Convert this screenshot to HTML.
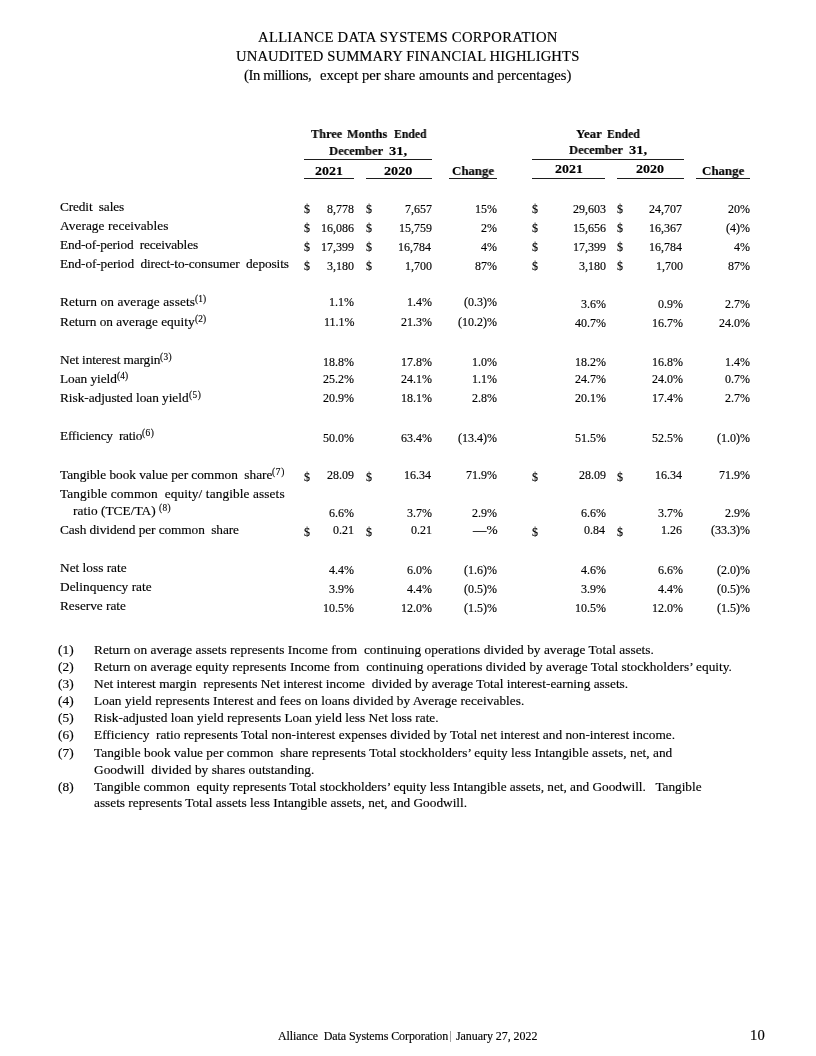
<!DOCTYPE html>
<html><head><meta charset="utf-8"><style>
html,body{margin:0;padding:0;background:#fff;}
body{width:816px;height:1056px;position:relative;overflow:hidden;-webkit-font-smoothing:antialiased;font-family:"Liberation Serif",serif;color:#000;}
.t{position:absolute;white-space:pre;line-height:1;will-change:transform;-webkit-text-stroke:0.15px #000;}
.l{position:absolute;}
</style></head><body>
<div class="t" style="left:258px;top:30px;font-size:14.67px;letter-spacing:0.295px;">ALLIANCE DATA SYSTEMS CORPORATION</div>
<div class="t" style="left:236px;top:49px;font-size:14.67px;letter-spacing:0.120px;">UNAUDITED SUMMARY FINANCIAL HIGHLIGHTS</div>
<div class="t" style="left:244px;top:68px;font-size:14.67px;letter-spacing:-0.400px;">(In millions,</div>
<div class="t" style="left:320px;top:68px;font-size:14.67px;letter-spacing:0.006px;">except per share amounts and percentages)</div>
<div class="t" style="left:311px;top:127px;font-size:13px;font-weight:bold;transform:scale(0.9430,1);transform-origin:0 11px;">Three</div>
<div class="t" style="left:347px;top:127px;font-size:13px;font-weight:bold;transform:scale(0.9436,1);transform-origin:0 11px;">Months</div>
<div class="t" style="left:394px;top:127px;font-size:13px;font-weight:bold;transform:scale(0.8973,1);transform-origin:0 11px;">Ended</div>
<div class="t" style="left:329px;top:144px;font-size:13px;font-weight:bold;transform:scale(0.9624,1);transform-origin:0 11px;">December</div>
<div class="t" style="left:389px;top:144px;font-size:13px;font-weight:bold;transform:scale(1.1195,1);transform-origin:0 11px;">31,</div>
<div class="l" style="left:304.1px;top:159.0px;width:127.9px;height:1.0px;background:#1e1e1e"></div>
<div class="t" style="left:315px;top:164px;font-size:13px;font-weight:bold;transform:scale(1.0737,1);transform-origin:0 11px;">2021</div>
<div class="t" style="left:384px;top:164px;font-size:13px;font-weight:bold;transform:scale(1.0942,1);transform-origin:0 11px;">2020</div>
<div class="t" style="left:452px;top:164px;font-size:13px;font-weight:bold;transform:scale(0.9886,1);transform-origin:0 11px;">Change</div>
<div class="l" style="left:304.1px;top:178.2px;width:49.8px;height:1.0px;background:#1e1e1e"></div>
<div class="l" style="left:365.5px;top:178.2px;width:66.5px;height:1.0px;background:#1e1e1e"></div>
<div class="l" style="left:448.8px;top:178.2px;width:48.4px;height:1.0px;background:#1e1e1e"></div>
<div class="t" style="left:576px;top:127px;font-size:13px;font-weight:bold;transform:scale(0.9922,1);transform-origin:0 11px;">Year</div>
<div class="t" style="left:607px;top:127px;font-size:13px;font-weight:bold;transform:scale(0.9057,1);transform-origin:0 11px;">Ended</div>
<div class="t" style="left:569px;top:143px;font-size:13px;font-weight:bold;transform:scale(0.9588,1);transform-origin:0 11px;">December</div>
<div class="t" style="left:629px;top:143px;font-size:13px;font-weight:bold;transform:scale(1.1195,1);transform-origin:0 11px;">31,</div>
<div class="l" style="left:531.6px;top:159.0px;width:152.0px;height:1.0px;background:#1e1e1e"></div>
<div class="t" style="left:555px;top:162px;font-size:13px;font-weight:bold;transform:scale(1.0737,1);transform-origin:0 11px;">2021</div>
<div class="t" style="left:636px;top:162px;font-size:13px;font-weight:bold;transform:scale(1.0822,1);transform-origin:0 11px;">2020</div>
<div class="t" style="left:702px;top:164px;font-size:13px;font-weight:bold;transform:scale(0.9934,1);transform-origin:0 11px;">Change</div>
<div class="l" style="left:531.6px;top:178.3px;width:73.7px;height:1.0px;background:#1e1e1e"></div>
<div class="l" style="left:617.2px;top:178.3px;width:66.4px;height:1.0px;background:#1e1e1e"></div>
<div class="l" style="left:695.6px;top:178.3px;width:54.3px;height:1.0px;background:#1e1e1e"></div>
<div class="t" style="left:60px;top:200px;font-size:13.33px;letter-spacing:-0.144px;">Credit  sales</div>
<div class="t" style="left:60px;top:219px;font-size:13.33px;letter-spacing:0.057px;">Average receivables</div>
<div class="t" style="left:60px;top:238px;font-size:13.33px;letter-spacing:-0.160px;">End-of-period  receivables</div>
<div class="t" style="left:60px;top:257px;font-size:13.33px;letter-spacing:-0.119px;">End-of-period  direct-to-consumer  deposits</div>
<div class="t" style="left:60px;top:295px;font-size:13.33px;letter-spacing:0.125px;">Return on average assets</div>
<div class="t" style="left:60px;top:315px;font-size:13.33px;letter-spacing:0.009px;">Return on average equity</div>
<div class="t" style="left:60px;top:353px;font-size:13.33px;letter-spacing:-0.126px;">Net interest margin</div>
<div class="t" style="left:60px;top:372px;font-size:13.33px;letter-spacing:-0.047px;">Loan yield</div>
<div class="t" style="left:60px;top:391px;font-size:13.33px;letter-spacing:-0.043px;">Risk-adjusted loan yield</div>
<div class="t" style="left:60px;top:429px;font-size:13.33px;letter-spacing:-0.253px;">Efficiency  ratio</div>
<div class="t" style="left:60px;top:468px;font-size:13.33px;letter-spacing:-0.039px;">Tangible book value per common  share</div>
<div class="t" style="left:60px;top:487px;font-size:13.33px;letter-spacing:0.097px;">Tangible common  equity/ tangible assets</div>
<div class="t" style="left:60px;top:523px;font-size:13.33px;letter-spacing:-0.092px;">Cash dividend per common  share</div>
<div class="t" style="left:60px;top:561px;font-size:13.33px;">Net loss rate</div>
<div class="t" style="left:60px;top:580px;font-size:13.33px;letter-spacing:0.017px;">Delinquency rate</div>
<div class="t" style="left:60px;top:599px;font-size:13.33px;letter-spacing:-0.025px;">Reserve rate</div>
<div class="t" style="left:73px;top:504px;font-size:13.33px;letter-spacing:0.035px;">ratio (TCE/TA)</div>
<div class="t" style="left:195px;top:295px;font-size:9.33px;letter-spacing:0.113px;">(1)</div>
<div class="t" style="left:195px;top:315px;font-size:9.33px;letter-spacing:0.113px;">(2)</div>
<div class="t" style="left:160px;top:353px;font-size:9.33px;letter-spacing:0.412px;">(3)</div>
<div class="t" style="left:117px;top:372px;font-size:9.33px;letter-spacing:0.062px;">(4)</div>
<div class="t" style="left:189px;top:391px;font-size:9.33px;letter-spacing:0.512px;">(5)</div>
<div class="t" style="left:142px;top:429px;font-size:9.33px;letter-spacing:0.512px;">(6)</div>
<div class="t" style="left:272px;top:468px;font-size:9.33px;letter-spacing:0.762px;">(7)</div>
<div class="t" style="left:159px;top:504px;font-size:9.33px;letter-spacing:0.363px;">(8)</div>
<div class="t" style="left:327px;top:203px;font-size:12px;transform:scale(1.0000,1.08);transform-origin:0 10px;">8,778</div>
<div class="t" style="left:405px;top:203px;font-size:12px;transform:scale(1.0000,1.08);transform-origin:0 10px;">7,657</div>
<div class="t" style="left:475px;top:203px;font-size:12px;transform:scale(1.0000,1.08);transform-origin:0 10px;">15%</div>
<div class="t" style="left:573px;top:203px;font-size:12px;transform:scale(1.0000,1.08);transform-origin:0 10px;">29,603</div>
<div class="t" style="left:649px;top:203px;font-size:12px;transform:scale(1.0000,1.08);transform-origin:0 10px;">24,707</div>
<div class="t" style="left:728px;top:203px;font-size:12px;transform:scale(1.0000,1.08);transform-origin:0 10px;">20%</div>
<div class="t" style="left:304px;top:203px;font-size:12px;transform:scale(1.0000,1.08);transform-origin:0 10px;">$</div>
<div class="t" style="left:366px;top:203px;font-size:12px;transform:scale(1.0000,1.08);transform-origin:0 10px;">$</div>
<div class="t" style="left:532px;top:203px;font-size:12px;transform:scale(1.0000,1.08);transform-origin:0 10px;">$</div>
<div class="t" style="left:617px;top:203px;font-size:12px;transform:scale(1.0000,1.08);transform-origin:0 10px;">$</div>
<div class="t" style="left:321px;top:222px;font-size:12px;transform:scale(1.0000,1.08);transform-origin:0 10px;">16,086</div>
<div class="t" style="left:399px;top:222px;font-size:12px;transform:scale(1.0000,1.08);transform-origin:0 10px;">15,759</div>
<div class="t" style="left:481px;top:222px;font-size:12px;transform:scale(1.0000,1.08);transform-origin:0 10px;">2%</div>
<div class="t" style="left:573px;top:222px;font-size:12px;transform:scale(1.0000,1.08);transform-origin:0 10px;">15,656</div>
<div class="t" style="left:649px;top:222px;font-size:12px;transform:scale(1.0000,1.08);transform-origin:0 10px;">16,367</div>
<div class="t" style="left:726px;top:222px;font-size:12px;transform:scale(1.0000,1.08);transform-origin:0 10px;">(4)%</div>
<div class="t" style="left:304px;top:222px;font-size:12px;transform:scale(1.0000,1.08);transform-origin:0 10px;">$</div>
<div class="t" style="left:366px;top:222px;font-size:12px;transform:scale(1.0000,1.08);transform-origin:0 10px;">$</div>
<div class="t" style="left:532px;top:222px;font-size:12px;transform:scale(1.0000,1.08);transform-origin:0 10px;">$</div>
<div class="t" style="left:617px;top:222px;font-size:12px;transform:scale(1.0000,1.08);transform-origin:0 10px;">$</div>
<div class="t" style="left:321px;top:241px;font-size:12px;transform:scale(1.0000,1.08);transform-origin:0 10px;">17,399</div>
<div class="t" style="left:398px;top:241px;font-size:12px;transform:scale(1.0000,1.08);transform-origin:0 10px;">16,784</div>
<div class="t" style="left:481px;top:241px;font-size:12px;transform:scale(1.0000,1.08);transform-origin:0 10px;">4%</div>
<div class="t" style="left:573px;top:241px;font-size:12px;transform:scale(1.0000,1.08);transform-origin:0 10px;">17,399</div>
<div class="t" style="left:649px;top:241px;font-size:12px;transform:scale(1.0000,1.08);transform-origin:0 10px;">16,784</div>
<div class="t" style="left:734px;top:241px;font-size:12px;transform:scale(1.0000,1.08);transform-origin:0 10px;">4%</div>
<div class="t" style="left:304px;top:241px;font-size:12px;transform:scale(1.0000,1.08);transform-origin:0 10px;">$</div>
<div class="t" style="left:366px;top:241px;font-size:12px;transform:scale(1.0000,1.08);transform-origin:0 10px;">$</div>
<div class="t" style="left:532px;top:241px;font-size:12px;transform:scale(1.0000,1.08);transform-origin:0 10px;">$</div>
<div class="t" style="left:617px;top:241px;font-size:12px;transform:scale(1.0000,1.08);transform-origin:0 10px;">$</div>
<div class="t" style="left:327px;top:260px;font-size:12px;transform:scale(1.0000,1.08);transform-origin:0 10px;">3,180</div>
<div class="t" style="left:405px;top:260px;font-size:12px;transform:scale(1.0000,1.08);transform-origin:0 10px;">1,700</div>
<div class="t" style="left:475px;top:260px;font-size:12px;transform:scale(1.0000,1.08);transform-origin:0 10px;">87%</div>
<div class="t" style="left:579px;top:260px;font-size:12px;transform:scale(1.0000,1.08);transform-origin:0 10px;">3,180</div>
<div class="t" style="left:656px;top:260px;font-size:12px;transform:scale(1.0000,1.08);transform-origin:0 10px;">1,700</div>
<div class="t" style="left:728px;top:260px;font-size:12px;transform:scale(1.0000,1.08);transform-origin:0 10px;">87%</div>
<div class="t" style="left:304px;top:260px;font-size:12px;transform:scale(1.0000,1.08);transform-origin:0 10px;">$</div>
<div class="t" style="left:366px;top:260px;font-size:12px;transform:scale(1.0000,1.08);transform-origin:0 10px;">$</div>
<div class="t" style="left:532px;top:260px;font-size:12px;transform:scale(1.0000,1.08);transform-origin:0 10px;">$</div>
<div class="t" style="left:617px;top:260px;font-size:12px;transform:scale(1.0000,1.08);transform-origin:0 10px;">$</div>
<div class="t" style="left:329px;top:296px;font-size:12px;transform:scale(1.0000,1.08);transform-origin:0 10px;">1.1%</div>
<div class="t" style="left:407px;top:296px;font-size:12px;transform:scale(1.0000,1.08);transform-origin:0 10px;">1.4%</div>
<div class="t" style="left:464px;top:296px;font-size:12px;transform:scale(1.0000,1.08);transform-origin:0 10px;">(0.3)%</div>
<div class="t" style="left:581px;top:298px;font-size:12px;transform:scale(1.0000,1.08);transform-origin:0 10px;">3.6%</div>
<div class="t" style="left:658px;top:298px;font-size:12px;transform:scale(1.0000,1.08);transform-origin:0 10px;">0.9%</div>
<div class="t" style="left:725px;top:298px;font-size:12px;transform:scale(1.0000,1.08);transform-origin:0 10px;">2.7%</div>
<div class="t" style="left:324px;top:316px;font-size:12px;transform:scale(1.0000,1.08);transform-origin:0 10px;">11.1%</div>
<div class="t" style="left:401px;top:316px;font-size:12px;transform:scale(1.0000,1.08);transform-origin:0 10px;">21.3%</div>
<div class="t" style="left:458px;top:316px;font-size:12px;transform:scale(1.0000,1.08);transform-origin:0 10px;">(10.2)%</div>
<div class="t" style="left:575px;top:317px;font-size:12px;transform:scale(1.0000,1.08);transform-origin:0 10px;">40.7%</div>
<div class="t" style="left:652px;top:317px;font-size:12px;transform:scale(1.0000,1.08);transform-origin:0 10px;">16.7%</div>
<div class="t" style="left:719px;top:317px;font-size:12px;transform:scale(1.0000,1.08);transform-origin:0 10px;">24.0%</div>
<div class="t" style="left:323px;top:356px;font-size:12px;transform:scale(1.0000,1.08);transform-origin:0 10px;">18.8%</div>
<div class="t" style="left:401px;top:356px;font-size:12px;transform:scale(1.0000,1.08);transform-origin:0 10px;">17.8%</div>
<div class="t" style="left:472px;top:356px;font-size:12px;transform:scale(1.0000,1.08);transform-origin:0 10px;">1.0%</div>
<div class="t" style="left:575px;top:356px;font-size:12px;transform:scale(1.0000,1.08);transform-origin:0 10px;">18.2%</div>
<div class="t" style="left:652px;top:356px;font-size:12px;transform:scale(1.0000,1.08);transform-origin:0 10px;">16.8%</div>
<div class="t" style="left:725px;top:356px;font-size:12px;transform:scale(1.0000,1.08);transform-origin:0 10px;">1.4%</div>
<div class="t" style="left:323px;top:373px;font-size:12px;transform:scale(1.0000,1.08);transform-origin:0 10px;">25.2%</div>
<div class="t" style="left:401px;top:373px;font-size:12px;transform:scale(1.0000,1.08);transform-origin:0 10px;">24.1%</div>
<div class="t" style="left:472px;top:373px;font-size:12px;transform:scale(1.0000,1.08);transform-origin:0 10px;">1.1%</div>
<div class="t" style="left:575px;top:373px;font-size:12px;transform:scale(1.0000,1.08);transform-origin:0 10px;">24.7%</div>
<div class="t" style="left:652px;top:373px;font-size:12px;transform:scale(1.0000,1.08);transform-origin:0 10px;">24.0%</div>
<div class="t" style="left:725px;top:373px;font-size:12px;transform:scale(1.0000,1.08);transform-origin:0 10px;">0.7%</div>
<div class="t" style="left:323px;top:392px;font-size:12px;transform:scale(1.0000,1.08);transform-origin:0 10px;">20.9%</div>
<div class="t" style="left:401px;top:392px;font-size:12px;transform:scale(1.0000,1.08);transform-origin:0 10px;">18.1%</div>
<div class="t" style="left:472px;top:392px;font-size:12px;transform:scale(1.0000,1.08);transform-origin:0 10px;">2.8%</div>
<div class="t" style="left:575px;top:392px;font-size:12px;transform:scale(1.0000,1.08);transform-origin:0 10px;">20.1%</div>
<div class="t" style="left:652px;top:392px;font-size:12px;transform:scale(1.0000,1.08);transform-origin:0 10px;">17.4%</div>
<div class="t" style="left:725px;top:392px;font-size:12px;transform:scale(1.0000,1.08);transform-origin:0 10px;">2.7%</div>
<div class="t" style="left:323px;top:432px;font-size:12px;transform:scale(1.0000,1.08);transform-origin:0 10px;">50.0%</div>
<div class="t" style="left:401px;top:432px;font-size:12px;transform:scale(1.0000,1.08);transform-origin:0 10px;">63.4%</div>
<div class="t" style="left:458px;top:432px;font-size:12px;transform:scale(1.0000,1.08);transform-origin:0 10px;">(13.4)%</div>
<div class="t" style="left:575px;top:432px;font-size:12px;transform:scale(1.0000,1.08);transform-origin:0 10px;">51.5%</div>
<div class="t" style="left:652px;top:432px;font-size:12px;transform:scale(1.0000,1.08);transform-origin:0 10px;">52.5%</div>
<div class="t" style="left:717px;top:432px;font-size:12px;transform:scale(1.0000,1.08);transform-origin:0 10px;">(1.0)%</div>
<div class="t" style="left:327px;top:469px;font-size:12px;transform:scale(1.0000,1.08);transform-origin:0 10px;">28.09</div>
<div class="t" style="left:404px;top:469px;font-size:12px;transform:scale(1.0000,1.08);transform-origin:0 10px;">16.34</div>
<div class="t" style="left:466px;top:469px;font-size:12px;transform:scale(1.0000,1.08);transform-origin:0 10px;">71.9%</div>
<div class="t" style="left:579px;top:469px;font-size:12px;transform:scale(1.0000,1.08);transform-origin:0 10px;">28.09</div>
<div class="t" style="left:655px;top:469px;font-size:12px;transform:scale(1.0000,1.08);transform-origin:0 10px;">16.34</div>
<div class="t" style="left:719px;top:469px;font-size:12px;transform:scale(1.0000,1.08);transform-origin:0 10px;">71.9%</div>
<div class="t" style="left:304px;top:471px;font-size:12px;transform:scale(1.0000,1.08);transform-origin:0 10px;">$</div>
<div class="t" style="left:366px;top:471px;font-size:12px;transform:scale(1.0000,1.08);transform-origin:0 10px;">$</div>
<div class="t" style="left:532px;top:471px;font-size:12px;transform:scale(1.0000,1.08);transform-origin:0 10px;">$</div>
<div class="t" style="left:617px;top:471px;font-size:12px;transform:scale(1.0000,1.08);transform-origin:0 10px;">$</div>
<div class="t" style="left:329px;top:507px;font-size:12px;transform:scale(1.0000,1.08);transform-origin:0 10px;">6.6%</div>
<div class="t" style="left:407px;top:507px;font-size:12px;transform:scale(1.0000,1.08);transform-origin:0 10px;">3.7%</div>
<div class="t" style="left:472px;top:507px;font-size:12px;transform:scale(1.0000,1.08);transform-origin:0 10px;">2.9%</div>
<div class="t" style="left:581px;top:507px;font-size:12px;transform:scale(1.0000,1.08);transform-origin:0 10px;">6.6%</div>
<div class="t" style="left:658px;top:507px;font-size:12px;transform:scale(1.0000,1.08);transform-origin:0 10px;">3.7%</div>
<div class="t" style="left:725px;top:507px;font-size:12px;transform:scale(1.0000,1.08);transform-origin:0 10px;">2.9%</div>
<div class="t" style="left:333px;top:524px;font-size:12px;transform:scale(1.0000,1.08);transform-origin:0 10px;">0.21</div>
<div class="t" style="left:411px;top:524px;font-size:12px;transform:scale(1.0000,1.08);transform-origin:0 10px;">0.21</div>
<div class="t" style="left:473px;top:524px;font-size:12px;transform:scale(1.1152,1.08);transform-origin:0 10px;">—%</div>
<div class="t" style="left:584px;top:524px;font-size:12px;transform:scale(1.0000,1.08);transform-origin:0 10px;">0.84</div>
<div class="t" style="left:661px;top:524px;font-size:12px;transform:scale(1.0000,1.08);transform-origin:0 10px;">1.26</div>
<div class="t" style="left:711px;top:524px;font-size:12px;transform:scale(1.0000,1.08);transform-origin:0 10px;">(33.3)%</div>
<div class="t" style="left:304px;top:526px;font-size:12px;transform:scale(1.0000,1.08);transform-origin:0 10px;">$</div>
<div class="t" style="left:366px;top:526px;font-size:12px;transform:scale(1.0000,1.08);transform-origin:0 10px;">$</div>
<div class="t" style="left:532px;top:526px;font-size:12px;transform:scale(1.0000,1.08);transform-origin:0 10px;">$</div>
<div class="t" style="left:617px;top:526px;font-size:12px;transform:scale(1.0000,1.08);transform-origin:0 10px;">$</div>
<div class="t" style="left:329px;top:564px;font-size:12px;transform:scale(1.0000,1.08);transform-origin:0 10px;">4.4%</div>
<div class="t" style="left:407px;top:564px;font-size:12px;transform:scale(1.0000,1.08);transform-origin:0 10px;">6.0%</div>
<div class="t" style="left:464px;top:564px;font-size:12px;transform:scale(1.0000,1.08);transform-origin:0 10px;">(1.6)%</div>
<div class="t" style="left:581px;top:564px;font-size:12px;transform:scale(1.0000,1.08);transform-origin:0 10px;">4.6%</div>
<div class="t" style="left:658px;top:564px;font-size:12px;transform:scale(1.0000,1.08);transform-origin:0 10px;">6.6%</div>
<div class="t" style="left:717px;top:564px;font-size:12px;transform:scale(1.0000,1.08);transform-origin:0 10px;">(2.0)%</div>
<div class="t" style="left:329px;top:583px;font-size:12px;transform:scale(1.0000,1.08);transform-origin:0 10px;">3.9%</div>
<div class="t" style="left:407px;top:583px;font-size:12px;transform:scale(1.0000,1.08);transform-origin:0 10px;">4.4%</div>
<div class="t" style="left:464px;top:583px;font-size:12px;transform:scale(1.0000,1.08);transform-origin:0 10px;">(0.5)%</div>
<div class="t" style="left:581px;top:583px;font-size:12px;transform:scale(1.0000,1.08);transform-origin:0 10px;">3.9%</div>
<div class="t" style="left:658px;top:583px;font-size:12px;transform:scale(1.0000,1.08);transform-origin:0 10px;">4.4%</div>
<div class="t" style="left:717px;top:583px;font-size:12px;transform:scale(1.0000,1.08);transform-origin:0 10px;">(0.5)%</div>
<div class="t" style="left:323px;top:602px;font-size:12px;transform:scale(1.0000,1.08);transform-origin:0 10px;">10.5%</div>
<div class="t" style="left:401px;top:602px;font-size:12px;transform:scale(1.0000,1.08);transform-origin:0 10px;">12.0%</div>
<div class="t" style="left:464px;top:602px;font-size:12px;transform:scale(1.0000,1.08);transform-origin:0 10px;">(1.5)%</div>
<div class="t" style="left:575px;top:602px;font-size:12px;transform:scale(1.0000,1.08);transform-origin:0 10px;">10.5%</div>
<div class="t" style="left:652px;top:602px;font-size:12px;transform:scale(1.0000,1.08);transform-origin:0 10px;">12.0%</div>
<div class="t" style="left:717px;top:602px;font-size:12px;transform:scale(1.0000,1.08);transform-origin:0 10px;">(1.5)%</div>
<div class="t" style="left:58px;top:643px;font-size:13.33px;letter-spacing:0.063px;">(1)</div>
<div class="t" style="left:94px;top:643px;font-size:13.33px;letter-spacing:0.025px;">Return on average assets represents Income from  continuing operations divided by average Total assets.</div>
<div class="t" style="left:58px;top:660px;font-size:13.33px;letter-spacing:0.063px;">(2)</div>
<div class="t" style="left:94px;top:660px;font-size:13.33px;letter-spacing:0.025px;">Return on average equity represents Income from  continuing operations divided by average Total stockholders’ equity.</div>
<div class="t" style="left:58px;top:677px;font-size:13.33px;letter-spacing:0.063px;">(3)</div>
<div class="t" style="left:94px;top:677px;font-size:13.33px;">Net interest margin  represents Net interest income  divided by average Total interest-earning assets.</div>
<div class="t" style="left:58px;top:694px;font-size:13.33px;letter-spacing:0.063px;">(4)</div>
<div class="t" style="left:94px;top:694px;font-size:13.33px;letter-spacing:0.045px;">Loan yield represents Interest and fees on loans divided by Average receivables.</div>
<div class="t" style="left:58px;top:711px;font-size:13.33px;letter-spacing:0.063px;">(5)</div>
<div class="t" style="left:94px;top:711px;font-size:13.33px;letter-spacing:0.006px;">Risk-adjusted loan yield represents Loan yield less Net loss rate.</div>
<div class="t" style="left:58px;top:728px;font-size:13.33px;letter-spacing:0.063px;">(6)</div>
<div class="t" style="left:94px;top:728px;font-size:13.33px;letter-spacing:0.007px;">Efficiency  ratio represents Total non-interest expenses divided by Total net interest and non-interest income.</div>
<div class="t" style="left:58px;top:746px;font-size:13.33px;letter-spacing:0.063px;">(7)</div>
<div class="t" style="left:94px;top:746px;font-size:13.33px;letter-spacing:0.020px;">Tangible book value per common  share represents Total stockholders’ equity less Intangible assets, net, and</div>
<div class="t" style="left:94px;top:763px;font-size:13.33px;letter-spacing:0.031px;">Goodwill  divided by shares outstanding.</div>
<div class="t" style="left:58px;top:780px;font-size:13.33px;letter-spacing:0.063px;">(8)</div>
<div class="t" style="left:94px;top:780px;font-size:13.33px;letter-spacing:-0.039px;">Tangible common  equity represents Total stockholders’ equity less Intangible assets, net, and Goodwill.   Tangible</div>
<div class="t" style="left:94px;top:796px;font-size:13.33px;letter-spacing:-0.015px;">assets represents Total assets less Intangible assets, net, and Goodwill.</div>
<div class="t" style="left:278px;top:1030px;font-size:12px;letter-spacing:-0.092px;">Alliance  Data Systems Corporation</div>
<div class="l" style="left:450.2px;top:1030.5px;width:1.0px;height:11px;background:#a0a0a0"></div>
<div class="t" style="left:456px;top:1030px;font-size:12px;letter-spacing:-0.062px;">January 27, 2022</div>
<div class="t" style="left:750px;top:1028px;font-size:14.67px;letter-spacing:0.050px;">10</div>
</body></html>
